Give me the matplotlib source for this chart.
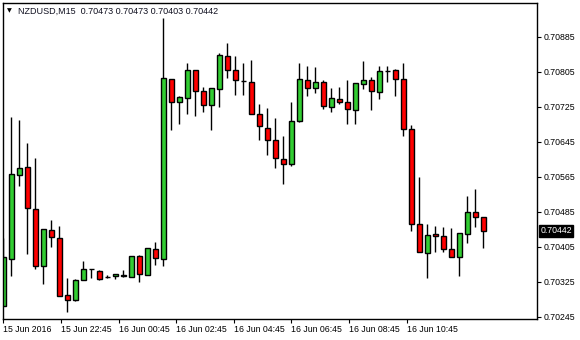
import matplotlib
matplotlib.use("Agg")
import matplotlib.pyplot as plt
import matplotlib.transforms as mtransforms

# NZDUSD M15 candles
opens = [0.70271, 0.70377, 0.70569, 0.70587, 0.70491, 0.70361, 0.70443, 0.70425, 0.70295, 0.70283,
         0.70330, 0.70355, 0.70351, 0.70337, 0.70339, 0.70338, 0.70336, 0.70384, 0.70340, 0.70400,
         0.70377, 0.70788, 0.70736, 0.70745, 0.70809, 0.70761, 0.70729, 0.70765, 0.70841, 0.70809,
         0.70784, 0.70783, 0.70708, 0.70676, 0.70649, 0.70606, 0.70594, 0.70692, 0.70786, 0.70768,
         0.70781, 0.70724, 0.70743, 0.70736, 0.70718, 0.70777, 0.70786, 0.70759, 0.70807, 0.70809,
         0.70788, 0.70674, 0.70457, 0.70391, 0.70434, 0.70430, 0.70400, 0.70381, 0.70434, 0.70484,
         0.70473]
highs = [0.70426, 0.70701, 0.70695, 0.70642, 0.70609, 0.70445, 0.70466, 0.70452, 0.70333, 0.70331,
         0.70373, 0.70355, 0.70352, 0.70342, 0.70343, 0.70352, 0.70384, 0.70386, 0.70403, 0.70416,
         0.70928, 0.70788, 0.70749, 0.70826, 0.70809, 0.70770, 0.70769, 0.70848, 0.70871, 0.70841,
         0.70826, 0.70832, 0.70732, 0.70723, 0.70700, 0.70659, 0.70736, 0.70826, 0.70819, 0.70816,
         0.70786, 0.70768, 0.70770, 0.70786, 0.70779, 0.70830, 0.70793, 0.70819, 0.70819, 0.70811,
         0.70826, 0.70683, 0.70564, 0.70457, 0.70452, 0.70450, 0.70448, 0.70436, 0.70521, 0.70537,
         0.70473]
lows = [0.70269, 0.70339, 0.70545, 0.70389, 0.70354, 0.70321, 0.70406, 0.70293, 0.70257, 0.70281,
        0.70330, 0.70333, 0.70329, 0.70333, 0.70331, 0.70336, 0.70336, 0.70326, 0.70340, 0.70364,
        0.70362, 0.70672, 0.70687, 0.70710, 0.70705, 0.70713, 0.70672, 0.70726, 0.70792, 0.70753,
        0.70753, 0.70708, 0.70650, 0.70616, 0.70586, 0.70550, 0.70590, 0.70690, 0.70751, 0.70758,
        0.70721, 0.70714, 0.70731, 0.70687, 0.70687, 0.70765, 0.70717, 0.70744, 0.70783, 0.70749,
        0.70659, 0.70442, 0.70393, 0.70335, 0.70393, 0.70393, 0.70381, 0.70339, 0.70414, 0.70450,
        0.70403]
closes = [0.70381, 0.70571, 0.70585, 0.70493, 0.70361, 0.70445, 0.70427, 0.70293, 0.70283, 0.70329,
          0.70354, 0.70355, 0.70331, 0.70337, 0.70343, 0.70340, 0.70384, 0.70343, 0.70402, 0.70379,
          0.70791, 0.70736, 0.70747, 0.70809, 0.70761, 0.70729, 0.70768, 0.70843, 0.70809, 0.70786,
          0.70784, 0.70708, 0.70681, 0.70649, 0.70608, 0.70595, 0.70692, 0.70788, 0.70768, 0.70781,
          0.70727, 0.70745, 0.70736, 0.70720, 0.70779, 0.70786, 0.70761, 0.70807, 0.70807, 0.70788,
          0.70674, 0.70457, 0.70393, 0.70432, 0.70430, 0.70400, 0.70381, 0.70436, 0.70484, 0.70473,
          0.70442]

price_ticks = [0.70245, 0.70325, 0.70405, 0.70485, 0.70565, 0.70645, 0.70725, 0.70805, 0.70885]
time_ticks = [0, 7.2, 14.4, 21.6, 28.8, 36.0, 43.2, 50.4]
time_labels = ["15 Jun 2016", "15 Jun 22:45", "16 Jun 00:45", "16 Jun 02:45",
               "16 Jun 04:45", "16 Jun 06:45", "16 Jun 08:45", "16 Jun 10:45"]

bull_color = "#32cd32"
bear_color = "#ff0000"
font = "Liberation Sans"

fig = plt.figure(figsize=(5.8, 3.4), dpi=100)
ax = fig.add_axes([3 / 580, 1 - 319 / 340, 534 / 580, 316 / 340])

xs = list(range(len(opens)))

# wicks first, bodies on top
ax.vlines(xs, lows, highs, color="black", linewidth=1, zorder=1)
for i in xs:
    o, c = opens[i], closes[i]
    if c > o:
        col = bull_color
    elif c < o:
        col = bear_color
    else:
        col = "black"
    ax.bar(i, c - o, bottom=o, width=0.62, color=col, edgecolor="black",
           linewidth=1, zorder=2)

ax.set_xlim(-0.04, 66.7)
ax.set_ylim(0.702404, 0.709627)

# price axis on the right like MT4
ax.yaxis.tick_right()
ax.set_yticks(price_ticks)
ax.set_yticklabels([f"{p:.5f}" for p in price_ticks], fontsize=6.3, family=font)
ax.set_xticks(time_ticks)
ax.set_xticklabels(time_labels, fontsize=6.3, family=font, ha="left")
ax.tick_params(axis="both", length=3, width=0.8, pad=1.5, direction="out")

for side in ax.spines.values():
    side.set_linewidth(1)

# current price label
trans = mtransforms.blended_transform_factory(ax.transAxes, ax.transData)
ax.text(1.006, closes[-1], f"{closes[-1]:.5f}", transform=trans, fontsize=6.3,
        family=font, color="white", va="center", ha="left",
        bbox=dict(facecolor="black", edgecolor="black", pad=1.2))

# header
fig.text(7 / 580, 1 - 11 / 340, "\u25bc", fontsize=4.5, va="center", ha="left")
fig.text(18 / 580, 1 - 11 / 340,
         "NZDUSD,M15  0.70473 0.70473 0.70403 0.70442",
         fontsize=6.5, family=font, va="center", ha="left", color="#101020")

fig.savefig("out.png", dpi=100, facecolor="white")
